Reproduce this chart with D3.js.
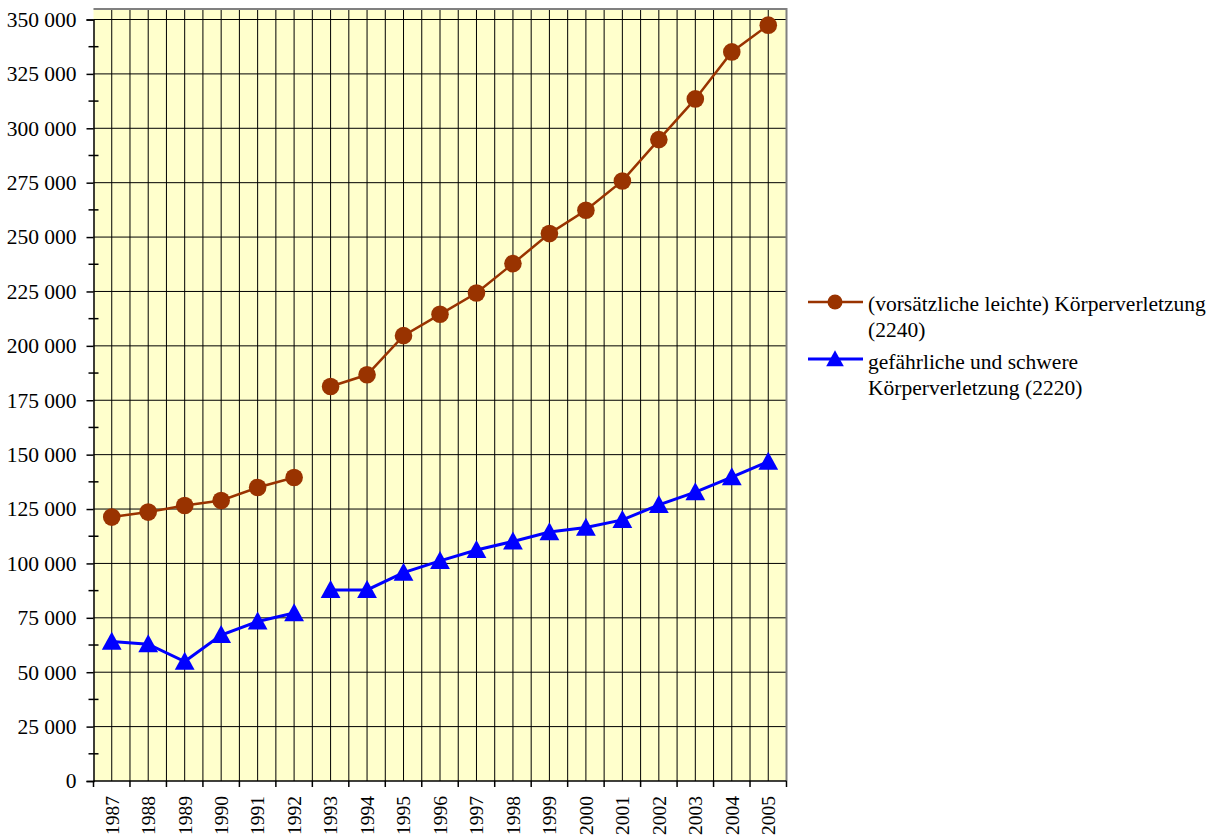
<!DOCTYPE html>
<html>
<head>
<meta charset="utf-8">
<script src="https://cdn.jsdelivr.net/npm/d3@7"></script>
<style>
  html, body { margin: 0; padding: 0; background: #ffffff; }
  svg { display: block; }
  text { font-family: "Liberation Serif", "Times New Roman", serif; fill: #000; }
</style>
</head>
<body>
<svg id="chart" width="1209" height="837"></svg>
<script>
// ---- data ----
const years = ["1987","1988","1989","1990","1991","1992","1993","1994","1995","1996",
               "1997","1998","1999","2000","2001","2002","2003","2004","2005"];
const segmentStarts = ["1987","1993"]; // series break between 1992 and 1993
const leichteKV = [121300,123600,126600,128900,134900,139500,181300,186700,204700,214500,
                   224300,237800,251600,262300,275800,294800,313500,335100,347400];
const schwereKV = [64100,62900,54900,67100,73300,77200,87800,87800,95800,101200,
                   106200,110100,114400,116500,120000,126900,132800,139700,146800];
const seriesNames = [
  ["(vorsätzliche leichte) Körperverletzung", "(2240)"],
  ["gefährliche und schwere", "Körperverletzung (2220)"]
];
const yTicks = [0,25000,50000,75000,100000,125000,150000,175000,200000,225000,250000,275000,300000,325000,350000];
const yMinorTicks = [12500,37500,62500,87500,112500,137500,162500,187500,212500,237500,262500,287500,312500,337500];

// ---- layout ----
const L = 93.5, R = 786.5, T = 9, B = 781;
const svg = d3.select("#chart");

const x = d3.scaleBand().domain(years).range([L, R]).paddingInner(0).paddingOuter(0);
const y = d3.scaleLinear().domain([0, 350000]).range([B, 19.5]);
const fmt = v => d3.format(",")(v).replace(/,/g, " ");

// plot background
svg.append("rect").attr("x", L).attr("y", T).attr("width", R - L).attr("height", B - T)
  .attr("fill", "#FFFFCC");

// vertical grid lines at every half category
const grid = svg.append("g");
const bw = x.bandwidth();
years.forEach((yr, i) => {
  const x0 = x(yr);
  if (i > 0) grid.append("line").attr("x1", x0).attr("x2", x0).attr("y1", T).attr("y2", B)
    .attr("stroke", "#000").attr("stroke-width", 1);
  grid.append("line").attr("x1", x0 + bw / 2).attr("x2", x0 + bw / 2).attr("y1", T).attr("y2", B)
    .attr("stroke", "#000").attr("stroke-width", 1);
});
// horizontal grid lines
yTicks.filter(v => v > 0).forEach(v => {
  grid.append("line").attr("x1", L).attr("x2", R).attr("y1", y(v)).attr("y2", y(v))
    .attr("stroke", "#000").attr("stroke-width", 1);
});

// plot border (top + right gray)
svg.append("path").attr("d", `M${L},${T}H${R}V${B}`)
  .attr("fill", "none").attr("stroke", "#808080").attr("stroke-width", 2);

// y axis
const yAxis = d3.axisLeft(y).tickValues(yTicks).tickFormat(fmt).tickSize(7).tickPadding(10);
const gy = svg.append("g").attr("transform", `translate(${L},0)`).call(yAxis);
gy.attr("font-family", null).attr("font-size", null);
gy.select(".domain").attr("stroke", "#000").attr("stroke-width", 1.5);
gy.selectAll(".tick line").attr("stroke", "#000").attr("stroke-width", 1.5);
gy.selectAll(".tick text").style("font-size", "21.5px");
// minor ticks crossing the axis
yMinorTicks.forEach(v => {
  svg.append("line").attr("x1", L - 5).attr("x2", L + 5).attr("y1", y(v)).attr("y2", y(v))
    .attr("stroke", "#000").attr("stroke-width", 1.5);
});

// x axis
const gx = svg.append("g").attr("transform", `translate(0,${B})`);
gx.append("line").attr("x1", L).attr("x2", R).attr("y1", 0).attr("y2", 0)
  .attr("stroke", "#000").attr("stroke-width", 1.5);
years.concat(["end"]).forEach((yr, i) => {
  const xv = i < years.length ? x(yr) : R;
  gx.append("line").attr("x1", xv).attr("x2", xv).attr("y1", 0).attr("y2", 6)
    .attr("stroke", "#000").attr("stroke-width", 1.5);
});
years.forEach(yr => {
  gx.append("text")
    .attr("transform", `translate(${x(yr) + bw / 2},15) rotate(-90)`)
    .attr("text-anchor", "end").attr("dy", "0.35em")
    .style("font-size", "19.5px")
    .text(yr);
});

// series
const series = [
  { values: leichteKV, color: "#993300", width: 2.5, marker: "circle" },
  { values: schwereKV, color: "#0000FF", width: 3, marker: "triangle" }
];
const segIdx = segmentStarts.map(s => years.indexOf(s));
const line = d3.line().x(d => x(d.year) + bw / 2).y(d => y(d.value));
const triPath = (cx, cy, s) => `M${cx},${cy - s * 0.55}L${cx + s * 0.55},${cy + s * 0.45}L${cx - s * 0.55},${cy + s * 0.45}Z`;

series.forEach(s => {
  const pts = years.map((yr, i) => ({ year: yr, value: s.values[i] }));
  segIdx.forEach((start, k) => {
    const end = k + 1 < segIdx.length ? segIdx[k + 1] : pts.length;
    svg.append("path").attr("d", line(pts.slice(start, end)))
      .attr("fill", "none").attr("stroke", s.color).attr("stroke-width", s.width);
  });
  const g = svg.append("g");
  pts.forEach(p => {
    const cx = x(p.year) + bw / 2, cy = y(p.value);
    if (s.marker === "circle") {
      g.append("circle").attr("cx", cx).attr("cy", cy).attr("r", 8.8).attr("fill", s.color);
    } else {
      g.append("path").attr("d", triPath(cx, cy, 18)).attr("fill", s.color);
    }
  });
});

// legend
const lg = svg.append("g");
const legendRows = [{ y: 302, textY: [311, 337] }, { y: 359, textY: [369, 395] }];
series.forEach((s, i) => {
  const r = legendRows[i];
  lg.append("line").attr("x1", 808).attr("x2", 863).attr("y1", r.y).attr("y2", r.y)
    .attr("stroke", s.color).attr("stroke-width", s.width);
  if (s.marker === "circle") {
    lg.append("circle").attr("cx", 835).attr("cy", r.y).attr("r", 7.5).attr("fill", s.color);
  } else {
    lg.append("path").attr("d", triPath(835, r.y, 16)).attr("fill", s.color);
  }
  seriesNames[i].forEach((t, j) => {
    lg.append("text").attr("x", 868).attr("y", r.textY[j]).style("font-size", "21.5px").text(t);
  });
});
</script>
</body>
</html>
